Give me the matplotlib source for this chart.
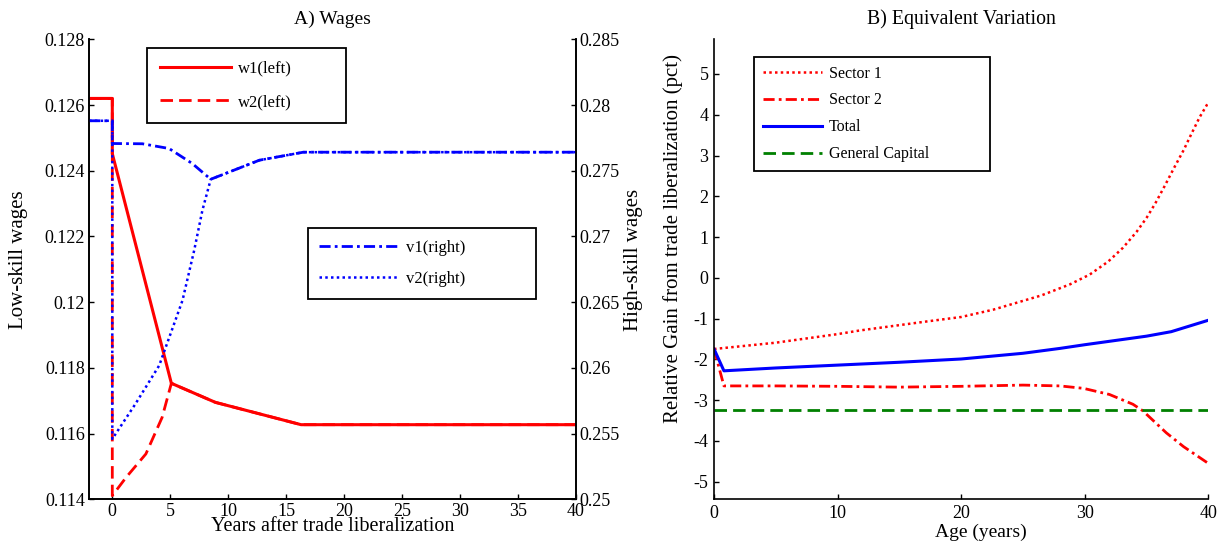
import matplotlib
matplotlib.use("Agg")
import matplotlib.pyplot as plt

plt.rcParams['font.family'] = ['Liberation Serif', 'DejaVu Serif']

# --- panel A: wages after liberalization (years) ---
t_w1 = [-2, 0, 0, 5.1, 8.9, 16.3, 40]
w1 = [0.1262, 0.1262, 0.12452, 0.11753, 0.11695, 0.11627, 0.11627]

t_w2 = [-2, 0, 0, 1.2, 2.9, 4.3, 5.1, 8.9, 16.3, 40]
w2 = [0.1262, 0.1262, 0.11411, 0.11467, 0.11538, 0.11649, 0.11753, 0.11695, 0.11627, 0.11627]

t_v1 = [-2, 0, 0, 2.6, 4.9, 6.9, 8.5, 12.7, 16.5, 40]
v1 = [0.2788, 0.2788, 0.27707, 0.27705, 0.27669, 0.27555, 0.27435, 0.2758, 0.27641, 0.27641]

t_v2 = [-2, 0, 0, 2.0, 4.05, 6.06, 7.07, 7.78, 8.5, 12.7, 16.5, 40]
v2 = [0.2788, 0.2788, 0.25459, 0.25726, 0.26018, 0.26513, 0.26894, 0.27199, 0.27435, 0.2758, 0.27641, 0.27641]

w_ticks = [0.114, 0.116, 0.118, 0.12, 0.122, 0.124, 0.126, 0.128]
w_labels = ['0.114', '0.116', '0.118', '0.12', '0.122', '0.124', '0.126', '0.128']
v_ticks = [0.25, 0.255, 0.26, 0.265, 0.27, 0.275, 0.28, 0.285]
v_labels = ['0.25', '0.255', '0.26', '0.265', '0.27', '0.275', '0.28', '0.285']
years_ticks = [0, 5, 10, 15, 20, 25, 30, 35, 40]

# --- panel B: equivalent variation by age ---
age_s1 = [0, 5, 10, 11.8, 17.2, 20, 22.6, 26.5, 28.8, 30.4, 31.9, 33.1, 34.2, 35.0,
          35.7, 36.5, 37.2, 38.0, 38.6, 39.3, 40]
sector1 = [-1.745, -1.59, -1.38, -1.29, -1.07, -0.96, -0.78, -0.43, -0.16, 0.08, 0.40,
           0.74, 1.13, 1.47, 1.82, 2.27, 2.68, 3.13, 3.51, 3.94, 4.3]

age_s2 = [0, 0.8, 5, 10, 15, 20, 25, 28, 29.9, 32, 33.9, 34.7, 36.6, 38, 40]
sector2 = [-1.745, -2.65, -2.65, -2.66, -2.68, -2.66, -2.63, -2.65, -2.71, -2.86,
           -3.10, -3.26, -3.80, -4.14, -4.55]

age_tot = [0, 0.8, 5, 10, 15, 20, 25, 28, 30, 35, 37, 40]
total = [-1.745, -2.28, -2.21, -2.14, -2.07, -1.99, -1.85, -1.73, -1.64, -1.43, -1.32, -1.04]

age_gk = [0, 40]
gen_capital = [-3.24, -3.24]

ev_ticks = [-5, -4, -3, -2, -1, 0, 1, 2, 3, 4, 5]
age_ticks = [0, 10, 20, 30, 40]

RED = (1, 0, 0)
BLUE = (0, 0, 1)
GREEN = (0, 0.5, 0)
FS_TICK = 13
FS_LAB = 15
FS_LEG = 12

fig = plt.figure(figsize=(12.21, 5.45), dpi=100)

# ===============================
# A) Wages
# ===============================
ax = fig.add_axes([0.0730, 0.0839, 0.3984, 0.8440])
ax2 = ax.twinx()

l1, = ax.plot(t_w1, w1, color=RED, lw=2.2, ls='-', label='w1(left)')
l2, = ax.plot(t_w2, w2, color=RED, lw=2.0, ls=(0, (4.5, 2.2)), label='w2(left)')
l3, = ax2.plot(t_v1, v1, color=BLUE, lw=2.0, ls=(0, (4, 1.5, 1, 1.5)), label='v1(right)')
l4, = ax2.plot(t_v2, v2, color=BLUE, lw=1.8, ls=(0, (1, 1.3)), label='v2(right)')

ax.set_xlim(-2, 40)
ax.set_ylim(0.114, 0.128)
ax2.set_ylim(0.25, 0.285)
ax.set_xticks(years_ticks)
ax.set_xticklabels([str(v) for v in years_ticks])
ax.set_yticks(w_ticks)
ax.set_yticklabels(w_labels)
ax2.set_yticks(v_ticks)
ax2.set_yticklabels(v_labels)

for a in (ax, ax2):
    a.spines['top'].set_visible(False)
    a.tick_params(direction='in', length=3.6, width=1, labelsize=FS_TICK, pad=3)
    for s in a.spines.values():
        s.set_linewidth(1.2)

ax.set_title('A) Wages', fontsize=14, pad=11)
ax.set_xlabel('Years after trade liberalization', fontsize=14.5)
ax.xaxis.set_label_coords(0.5, -0.0596)
ax.xaxis.label.set_va('center')
ax.set_ylabel('Low-skill wages', fontsize=FS_LAB)
ax.yaxis.set_label_coords(-0.146, 0.52)
ax.yaxis.label.set_va('center')
ax2.set_ylabel('High-skill wages', fontsize=FS_LAB)
ax2.yaxis.set_label_coords(1.12, 0.52)
ax2.yaxis.label.set_va('center')

leg1 = ax.legend(handles=[l1, l2], loc='upper left', bbox_to_anchor=(0.119, 0.981, 0.409, 0.0),
                 mode='expand', fontsize=FS_LEG, frameon=True, fancybox=False,
                 edgecolor='black', framealpha=1, handlelength=4.3, handletextpad=0.4,
                 labelspacing=1.05, borderpad=0.75, borderaxespad=0)
leg1.get_frame().set_linewidth(1.3)

leg2 = ax2.legend(handles=[l3, l4], loc='upper left', bbox_to_anchor=(0.449, 0.589, 0.470, 0.0),
                  mode='expand', fontsize=FS_LEG, frameon=True, fancybox=False,
                  edgecolor='black', framealpha=1, handlelength=4.8, handletextpad=0.4,
                  labelspacing=0.9, borderpad=0.7, borderaxespad=0)
leg2.get_frame().set_linewidth(1.3)

# ===============================
# B) Equivalent Variation
# ===============================
bx = fig.add_axes([0.5848, 0.0839, 0.4048, 0.8440])

b1, = bx.plot(age_s1, sector1, color=RED, lw=1.8, ls=(0, (1, 1.3)), label='Sector 1')
b2, = bx.plot(age_s2, sector2, color=RED, lw=2.0, ls=(0, (4, 1.5, 1, 1.5)), label='Sector 2')
b3, = bx.plot(age_tot, total, color=BLUE, lw=2.2, ls='-', label='Total')
b4, = bx.plot(age_gk, gen_capital, color=GREEN, lw=2.0, ls=(0, (4.5, 2.2)), label='General Capital')

bx.set_xlim(0, 40)
bx.set_ylim(-5.43, 5.85)
bx.set_xticks(age_ticks)
bx.set_xticklabels([str(v) for v in age_ticks])
bx.set_yticks(ev_ticks)
bx.set_yticklabels([str(v) for v in ev_ticks])
bx.spines['top'].set_visible(False)
bx.spines['right'].set_visible(False)
for s in bx.spines.values():
    s.set_linewidth(1.2)
bx.tick_params(direction='in', length=3.6, width=1, labelsize=FS_TICK, pad=4)

bx.set_title('B) Equivalent Variation', fontsize=14.3, pad=11)
bx.set_xlabel('Age (years)', fontsize=14)
bx.xaxis.set_label_coords(0.539, -0.071)
bx.xaxis.label.set_va('center')
bx.set_ylabel('Relative Gain from trade liberalization (pct)', fontsize=FS_LAB)
bx.yaxis.set_label_coords(-0.0836, 0.568)
bx.yaxis.label.set_va('center')

leg3 = bx.legend(handles=[b1, b2, b3, b4], loc='upper left', bbox_to_anchor=(0.0815, 0.962, 0.4765, 0.0),
                 mode='expand', fontsize=11.5, frameon=True, fancybox=False,
                 edgecolor='black', framealpha=1, handlelength=3.7, handletextpad=0.4,
                 labelspacing=0.68, borderpad=0.55, borderaxespad=0)
leg3.get_frame().set_linewidth(1.3)

fig.savefig('out.png', dpi=100)
